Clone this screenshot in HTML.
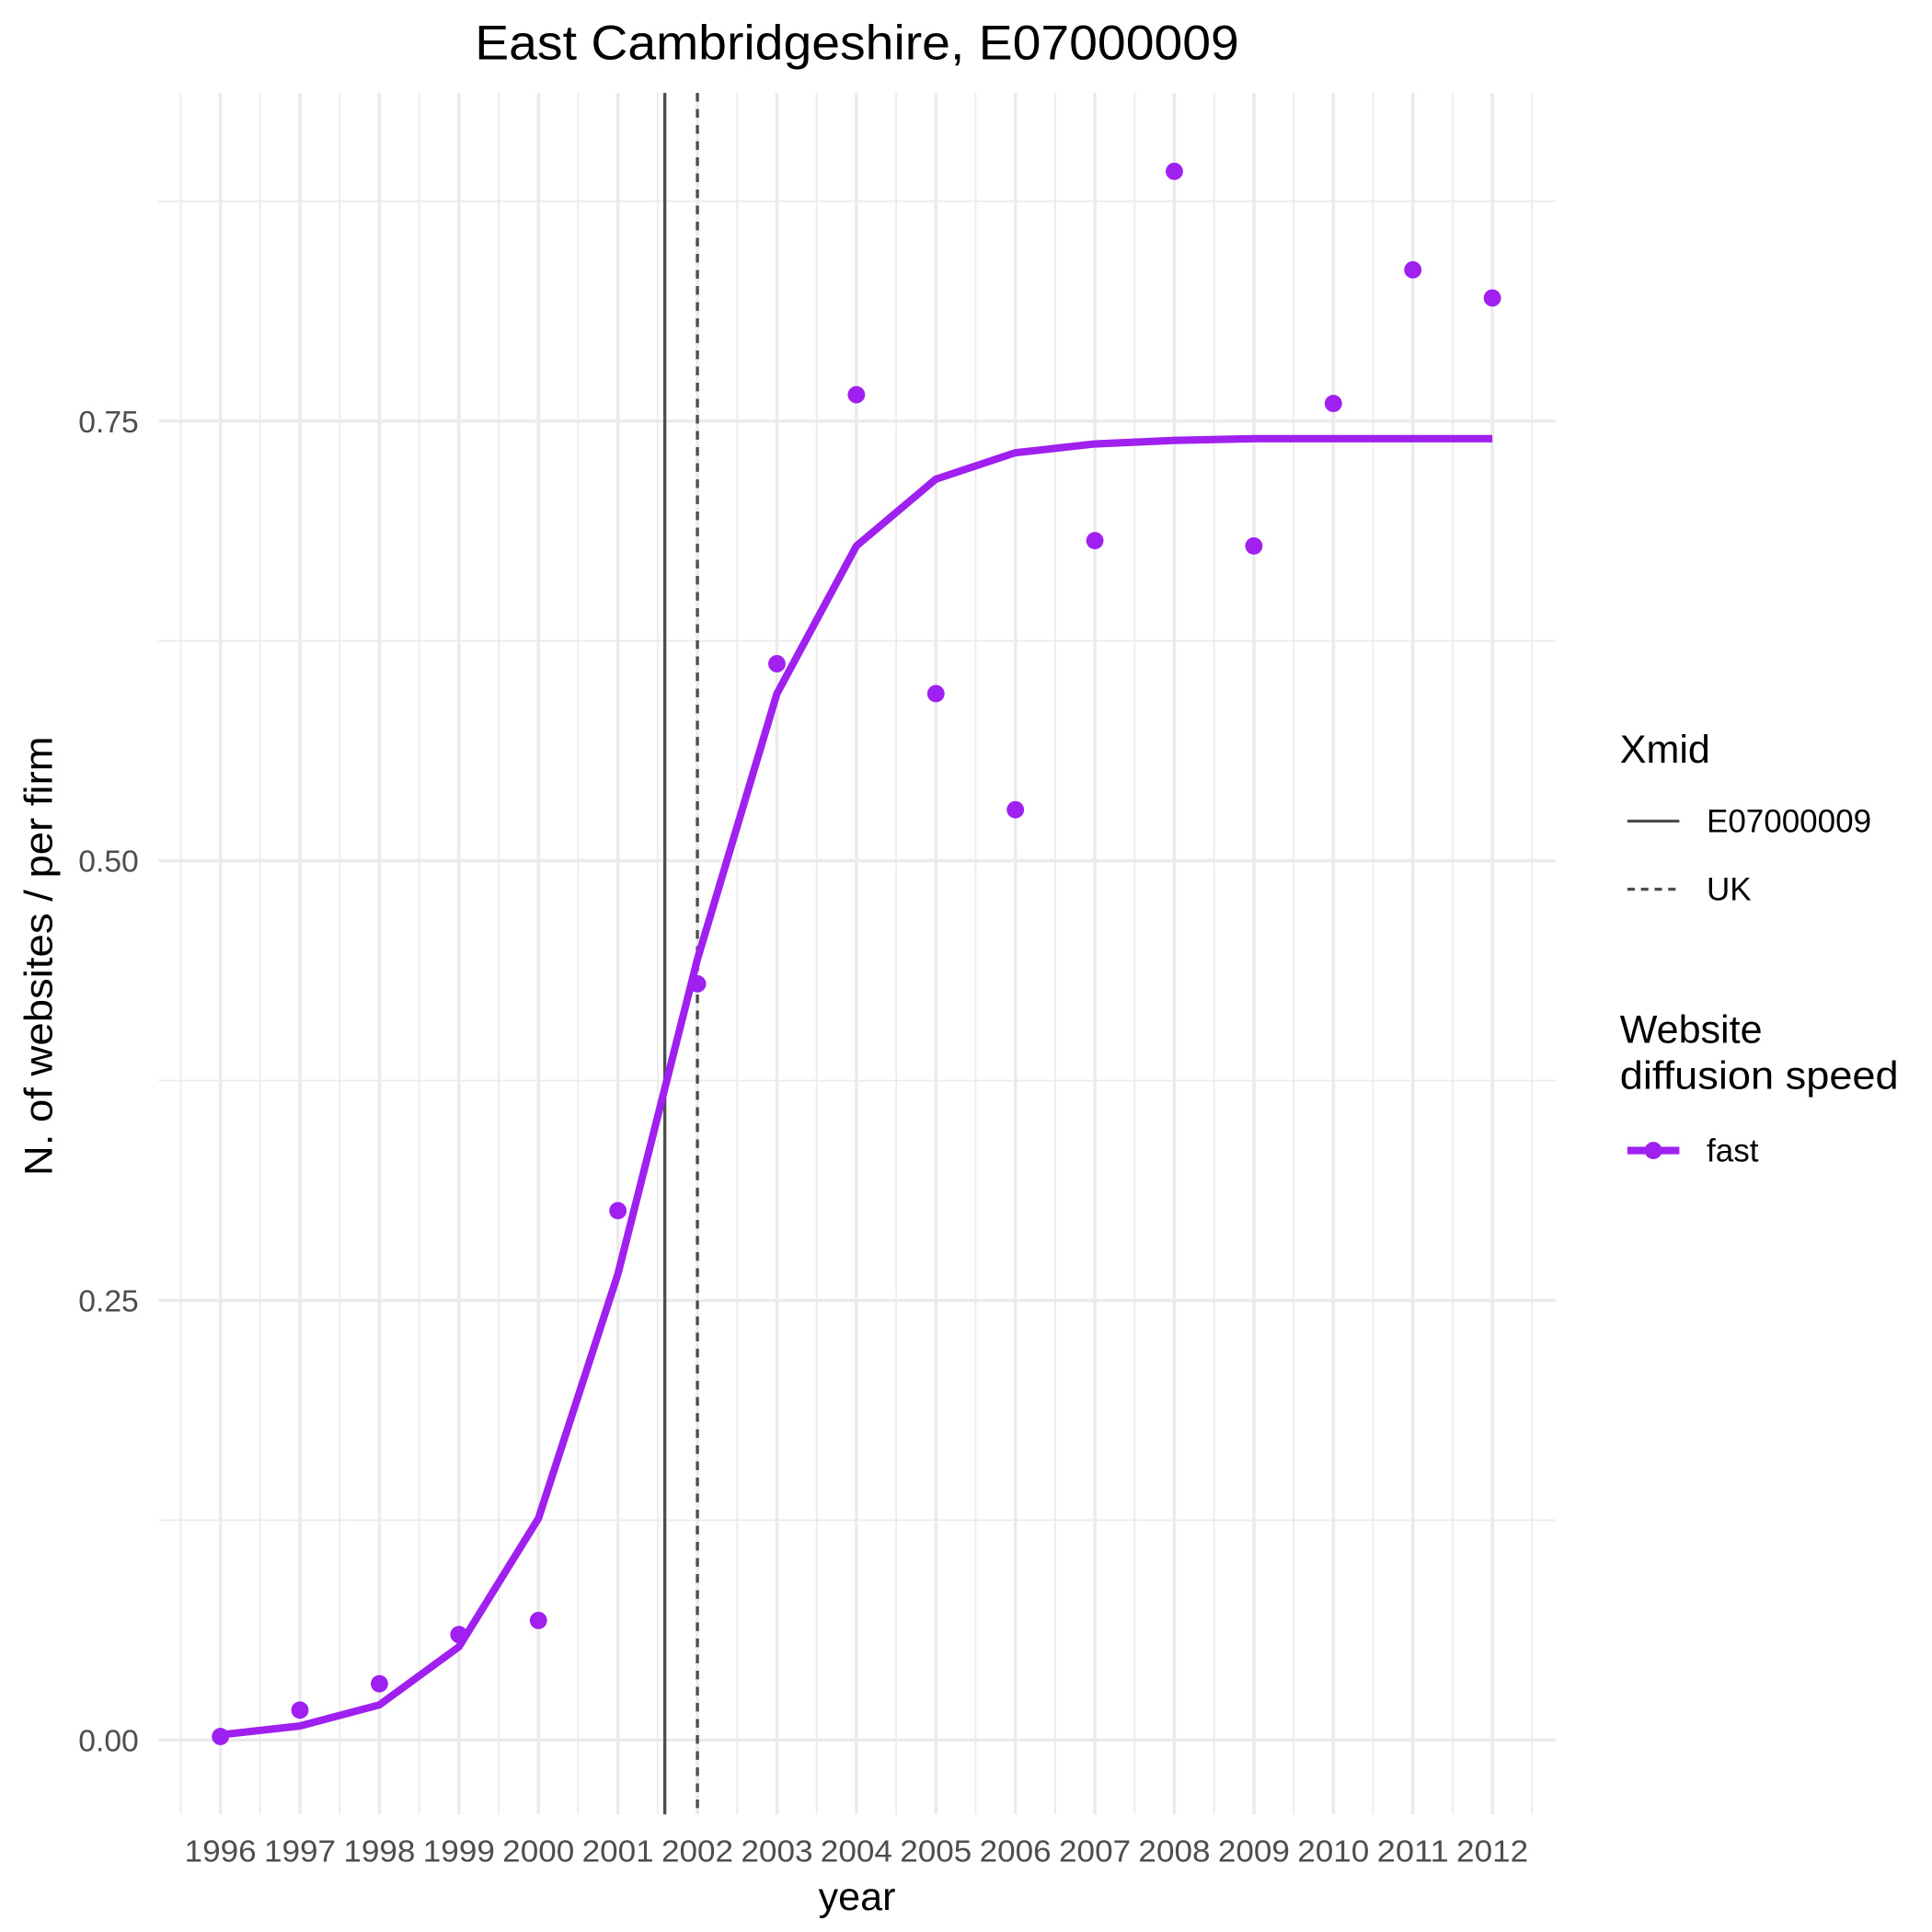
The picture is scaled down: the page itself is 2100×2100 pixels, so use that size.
<!DOCTYPE html>
<html><head><meta charset="utf-8"><style>
html,body{margin:0;padding:0;background:#fff;}
svg{display:block;font-family:"Liberation Sans",Arial,sans-serif;}
</style></head><body>
<svg id="chart" width="2100" height="2100" viewBox="0 0 1560 1560" xmlns="http://www.w3.org/2000/svg">
<rect width="1560" height="1560" fill="#fff"/>
<g id="grid"></g>
<g id="vlines"></g>
<g id="series"></g>
<g id="axes"></g>
<text x="692" y="48" font-size="39" text-anchor="middle" fill="#000" textLength="617" lengthAdjust="spacingAndGlyphs">East Cambridgeshire, E07000009</text>
<text x="692" y="1542" font-size="32" text-anchor="middle" fill="#000">year</text>
<text transform="translate(42,772) rotate(-90)" font-size="32" text-anchor="middle" fill="#000" textLength="355" lengthAdjust="spacingAndGlyphs">N. of websites / per firm</text>
<g>
<text x="1308" y="616" font-size="32" fill="#000">Xmid</text>
<line x1="1314" y1="663" x2="1356" y2="663" stroke="#4d4d4d" stroke-width="2.5"/>
<text x="1378" y="672" font-size="26" fill="#000" textLength="133" lengthAdjust="spacingAndGlyphs">E07000009</text>
<line x1="1314" y1="718" x2="1356" y2="718" stroke="#4d4d4d" stroke-width="2.5" stroke-dasharray="6,5"/>
<text x="1378" y="727" font-size="26" fill="#000">UK</text>
<text x="1308" y="842" font-size="32" fill="#000">Website</text>
<text x="1308" y="879" font-size="32" fill="#000" textLength="225" lengthAdjust="spacingAndGlyphs">diffusion speed</text>
<line x1="1314" y1="929" x2="1356" y2="929" stroke="#a020f0" stroke-width="6"/>
<circle cx="1335" cy="929" r="7" fill="#a020f0"/>
<text x="1378" y="938" font-size="26" fill="#000">fast</text>
</g>
</svg>
<script>
const years = [1996,1997,1998,1999,2000,2001,2002,2003,2004,2005,2006,2007,2008,2009,2010,2011,2012];
const observed = [0.002,0.017,0.032,0.060,0.068,0.301,0.430,0.612,0.765,0.595,0.529,0.682,0.892,0.679,0.760,0.836,0.820];
const fitted = [0.003,0.008,0.020,0.053,0.126,0.265,0.444,0.595,0.679,0.717,0.732,0.737,0.739,0.740,0.740,0.740,0.740];
const yTicks = [0,0.25,0.5,0.75];
const yTickLabels = ["0.00","0.25","0.50","0.75"];
const xmidLocal = 2001.59;
const xmidUK = 2002.0;

const NS='http://www.w3.org/2000/svg';
const X0=178, XS=(1205-178)/16, Y0=1405, YS=(1405-340)/0.75;
const PT=75, PB=1465, PL=128, PR=1256;
function xs(v){return X0+(v-1996)*XS;}
function ys(v){return Y0-v*YS;}
function mk(tag,attrs,parent){const e=document.createElementNS(NS,tag);for(const k in attrs)e.setAttribute(k,attrs[k]);parent.appendChild(e);return e;}
const grid=document.getElementById('grid');
for(let v=-0.125; v<=1.0; v+=0.25){const y=ys(v); if(y<PT||y>PB)continue;
 const l=mk('line',{x1:PL,x2:PR,y1:y,y2:y,stroke:'#ebebeb','stroke-width':1.3},grid);
 
 }
yTicks.forEach((v,i)=>{const y=ys(v);
 const l=mk('line',{x1:PL,x2:PR,y1:y,y2:y,stroke:'#ebebeb','stroke-width':2.6},grid);
 
 
 const t=mk('text',{x:112,y:y+9,'font-size':25,'text-anchor':'end',fill:'#4d4d4d'},document.getElementById('axes'));
 t.textContent=yTickLabels[i];
 
 });
for(let i=0;i<=years.length;i++){const x=xs(years[0]-0.5+i);
 const l=mk('line',{x1:x,x2:x,y1:PT,y2:PB,stroke:'#ebebeb','stroke-width':1.3},grid);
 
 }
years.forEach(yr=>{const x=xs(yr);
 const l=mk('line',{x1:x,x2:x,y1:PT,y2:PB,stroke:'#ebebeb','stroke-width':2.6},grid);
 
 
 const t=mk('text',{x:x,y:1503,'font-size':25,'text-anchor':'middle',fill:'#4d4d4d',textLength:58,lengthAdjust:'spacingAndGlyphs'},document.getElementById('axes'));
 t.textContent=yr;
 
 });
const vl=document.getElementById('vlines');
const a=mk('line',{x1:xs(xmidLocal),x2:xs(xmidLocal),y1:PT,y2:PB,stroke:'#4d4d4d','stroke-width':2.5},vl);


const b=mk('line',{x1:xs(xmidUK),x2:xs(xmidUK),y1:PT,y2:PB,stroke:'#4d4d4d','stroke-width':2.5,'stroke-dasharray':'7,6'},vl);


const s=document.getElementById('series');
const p=mk('polyline',{points:years.map((y,i)=>xs(y)+','+ys(fitted[i])).join(' '),fill:'none',stroke:'#a020f0','stroke-width':6,'stroke-linejoin':'round'},s);


years.forEach((y,i)=>{const c=mk('circle',{cx:xs(y),cy:ys(observed[i]),r:7,fill:'#a020f0'},s);
 
 });
</script>
</body></html>
